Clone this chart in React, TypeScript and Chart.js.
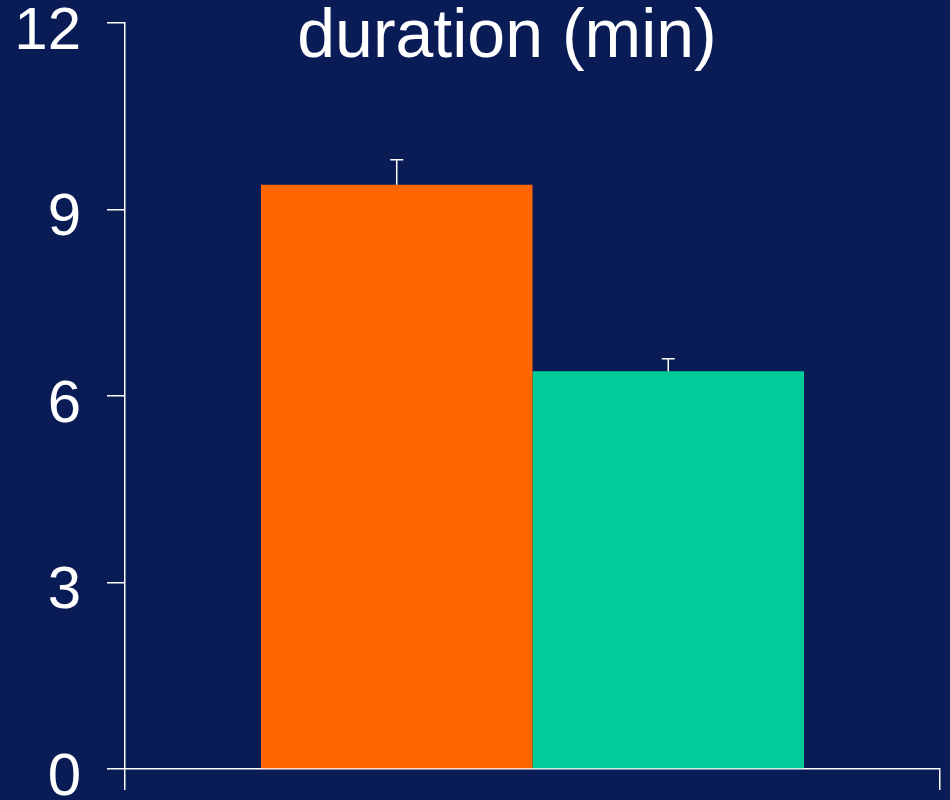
import { useEffect, useRef } from "react";
import { Chart, registerables } from "chart.js";

Chart.register(...registerables);

// Single measured quantity, two groups shown side by side.
const CATEGORIES = ["duration (min)"];
const GROUPS = ["group A", "group B"];
const MEANS = [9.4, 6.4];
const ERRORS = [0.4, 0.2];
const BAR_COLORS = ["#ff6600", "#00cc99"];
const Y_TICKS = [0, 3, 6, 9, 12];

const BG = "#0a1c56";
const FG = "#ffffff";
const FONT = "'Liberation Sans', Arial, sans-serif";

// Upper error whiskers with a small cap, placed from the y scale.
const errorBarPlugin = {
  id: "errorBars",
  afterDatasetsDraw(chart: any) {
    const { ctx } = chart;
    const yScale = chart.scales.y;
    chart.data.datasets.forEach((ds: any, i: number) => {
      const meta = chart.getDatasetMeta(i);
      meta.data.forEach((bar: any, j: number) => {
        const v = ds.data[j] as number;
        const err = ERRORS[i];
        const yBar = yScale.getPixelForValue(v);
        const yTop = yScale.getPixelForValue(v + err);
        const cap = 6.5;
        ctx.save();
        ctx.strokeStyle = FG;
        ctx.lineWidth = 1.5;
        ctx.beginPath();
        ctx.moveTo(bar.x, yBar);
        ctx.lineTo(bar.x, yTop);
        ctx.moveTo(bar.x - cap, yTop);
        ctx.lineTo(bar.x + cap, yTop);
        ctx.stroke();
        ctx.restore();
      });
    });
  },
};

// Large heading naming the measured quantity.
const headingPlugin = {
  id: "heading",
  afterDraw(chart: any) {
    const { ctx } = chart;
    ctx.save();
    ctx.fillStyle = FG;
    ctx.font = `68px ${FONT}`;
    ctx.textAlign = "center";
    ctx.textBaseline = "alphabetic";
    ctx.fillText(chart.data.labels[0], 507, 57);
    ctx.restore();
  },
};

export default function App() {
  const canvasRef = useRef<HTMLCanvasElement | null>(null);

  useEffect(() => {
    const canvas = canvasRef.current;
    if (!canvas) return;
    const chart = new Chart(canvas, {
      type: "bar",
      data: {
        labels: CATEGORIES,
        datasets: GROUPS.map((name, i) => ({
          label: name,
          data: [MEANS[i]],
          backgroundColor: BAR_COLORS[i],
          borderWidth: 0,
          barPercentage: 1,
          categoryPercentage: 0.6663,
        })),
      },
      options: {
        responsive: false,
        animation: false,
        events: [],
        layout: { padding: { left: 0, right: 10, top: 23, bottom: 10 } },
        plugins: {
          legend: { display: false },
          title: { display: false },
          tooltip: { enabled: false },
        },
        scales: {
          x: {
            type: "category",
            offset: true,
            grid: {
              display: true,
              offset: true,
              drawOnChartArea: false,
              drawTicks: true,
              tickLength: 21,
              color: FG,
              lineWidth: 1.5,
            },
            border: { display: true, color: FG, width: 1.5 },
            ticks: { display: false },
          },
          y: {
            type: "linear",
            min: Y_TICKS[0],
            max: Y_TICKS[Y_TICKS.length - 1],
            afterBuildTicks: (scale: any) => {
              scale.ticks = Y_TICKS.map((v) => ({ value: v }));
            },
            afterFit: (scale: any) => {
              scale.width = 125;
              scale.paddingTop = 0;
              scale.paddingBottom = 0;
            },
            grid: {
              display: true,
              drawOnChartArea: false,
              drawTicks: true,
              tickLength: 18,
              color: FG,
              lineWidth: 1.5,
            },
            border: { display: true, color: FG, width: 1.5 },
            ticks: {
              color: FG,
              padding: 26,
              labelOffset: 9,
              font: { family: FONT, size: 60, lineHeight: 1 },
            },
          },
        },
      },
      plugins: [errorBarPlugin, headingPlugin],
    });
    return () => chart.destroy();
  }, []);

  return (
    <div
      style={{
        position: "fixed",
        left: 0,
        top: 0,
        width: 950,
        height: 800,
        background: BG,
      }}
    >
      <canvas ref={canvasRef} width={950} height={800} />
    </div>
  );
}
